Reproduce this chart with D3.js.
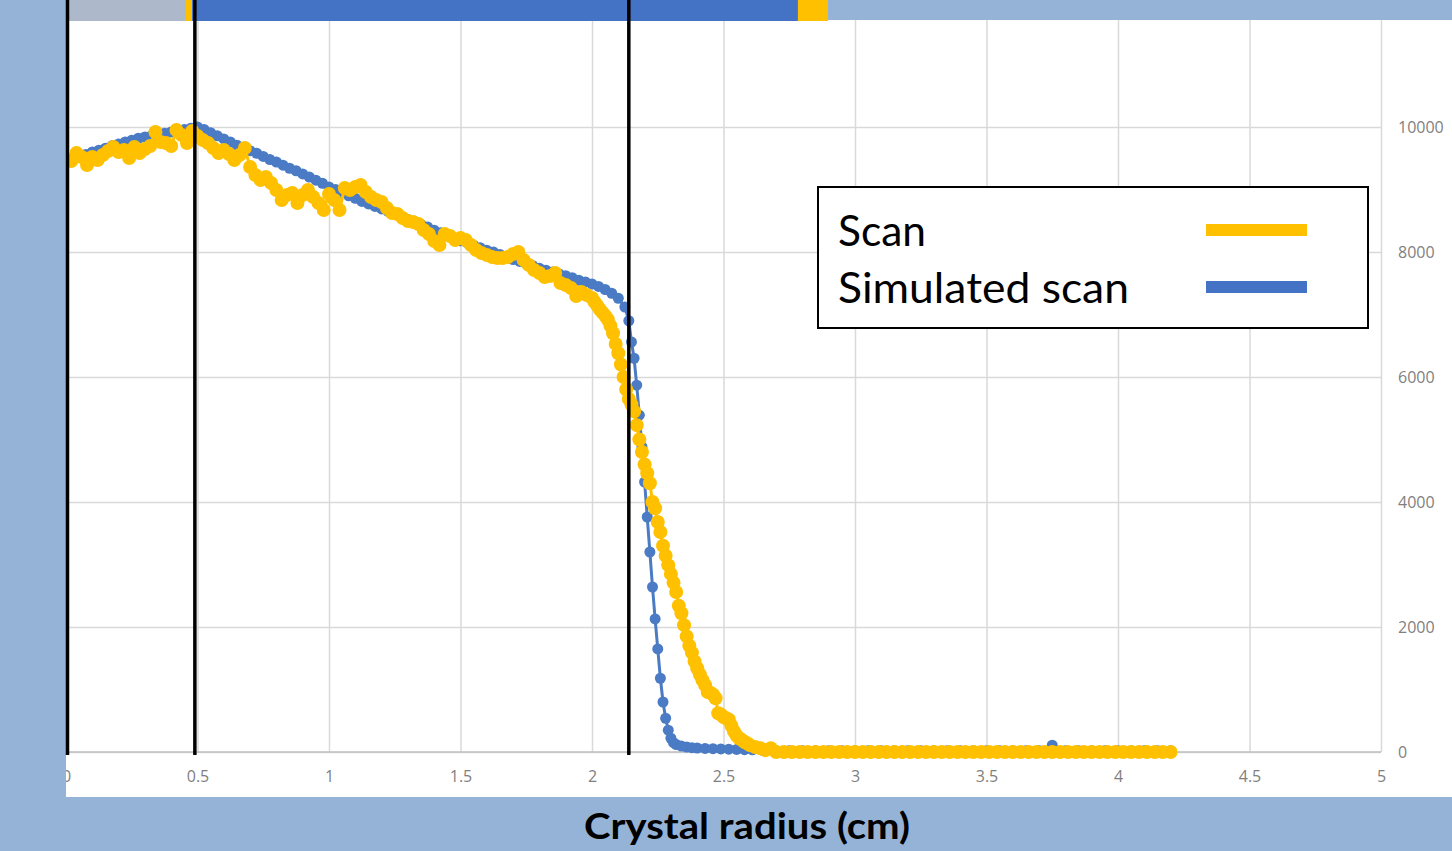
<!DOCTYPE html>
<html>
<head>
<meta charset="utf-8">
<script src="https://cdn.jsdelivr.net/npm/d3@7"></script>
<style>
  html, body { margin: 0; padding: 0; background: #95b3d7; }
  svg { display: block; }
</style>
</head>
<body>
<div id="chart"></div>
<script>
// Data: [radius (cm), counts]
const scanPoints = [
  [0,9472],[0.02,9456],[0.04,9584],[0.06,9520],[0.08,9392],[0.1,9520],[0.12,9472],[0.14,9552],[0.16,9616],[0.18,9680],
  [0.2,9600],[0.22,9632],[0.24,9504],[0.26,9680],[0.28,9584],[0.3,9648],[0.32,9696],[0.34,9920],[0.36,9760],[0.38,9744],
  [0.4,9696],[0.42,9952],[0.44,9872],[0.46,9744],[0.48,9936],[0.5,9856],[0.52,9792],[0.54,9744],[0.56,9664],[0.58,9584],
  [0.6,9632],[0.62,9568],[0.64,9472],[0.66,9552],[0.68,9664],[0.7,9360],[0.72,9232],[0.74,9152],[0.76,9200],[0.78,9104],
  [0.8,8992],[0.82,8832],[0.84,8912],[0.86,8944],[0.88,8784],[0.9,8912],[0.92,8992],[0.94,8880],[0.96,8784],[0.98,8672],
  [1,8928],[1.02,8832],[1.04,8672],[1.06,9024],[1.08,8992],[1.1,9040],[1.12,9072],[1.14,8960],[1.16,8880],[1.18,8832],
  [1.2,8800],[1.22,8704],[1.24,8624],[1.26,8608],[1.28,8544],[1.3,8496],[1.32,8480],[1.34,8448],[1.36,8352],[1.38,8288],
  [1.4,8176],[1.42,8112],[1.44,8288],[1.46,8256],[1.48,8192],[1.5,8224],[1.52,8192],[1.54,8112],[1.56,8032],[1.58,7984],
  [1.6,7952],[1.62,7920],[1.64,7904],[1.66,7904],[1.68,7920],[1.7,7968],[1.72,8000],[1.74,7872],[1.76,7792],[1.78,7712],
  [1.8,7664],[1.82,7600],[1.84,7616],[1.86,7664],[1.88,7504],[1.9,7472],[1.92,7424],[1.94,7296],[1.96,7360],[1.98,7312],
  [2,7264],[2.01,7200],[2.02,7140],[2.03,7080],[2.04,7030],[2.05,6980],[2.06,6920],[2.07,6820],[2.08,6700],[2.09,6530],
  [2.1,6380],[2.11,6200],[2.12,6000],[2.13,5800],[2.14,5650],[2.15,5560],[2.16,5450],[2.17,5230],[2.18,5000],[2.19,4800],
  [2.2,4600],[2.21,4460],[2.22,4300],[2.23,4000],[2.24,3900],[2.25,3680],[2.26,3520],[2.27,3300],[2.28,3140],[2.29,2990],
  [2.3,2850],[2.31,2710],[2.32,2560],[2.33,2340],[2.34,2220],[2.35,2030],[2.36,1850],[2.37,1700],[2.38,1590],[2.39,1450],
  [2.4,1340],[2.41,1240],[2.42,1150],[2.43,1070],[2.44,960],[2.45,950],[2.46,920],[2.47,860],[2.48,620],[2.49,600],
  [2.5,560],[2.51,540],[2.52,520],[2.53,420],[2.54,330],[2.55,260],[2.56,220],[2.57,190],[2.58,160],[2.59,140],
  [2.6,110],[2.62,80],[2.64,60],[2.66,30],[2.68,60],
  [2.7,0],[2.73,0],[2.76,0],[2.79,0],[2.82,0],[2.85,0],[2.88,0],[2.91,0],[2.94,0],[2.97,0],
  [3,0],[3.03,0],[3.06,0],[3.09,0],[3.12,0],[3.15,0],[3.18,0],[3.21,0],[3.24,0],[3.27,0],
  [3.3,0],[3.33,0],[3.36,0],[3.39,0],[3.42,0],[3.45,0],[3.48,0],[3.51,0],[3.54,0],[3.57,0],
  [3.6,0],[3.63,0],[3.66,0],[3.69,0],[3.72,0],[3.75,0],[3.78,0],[3.81,0],[3.84,0],[3.87,0],
  [3.9,0],[3.93,0],[3.96,0],[3.99,0],[4.02,0],[4.05,0],[4.08,0],[4.11,0],[4.14,0],[4.17,0],[4.2,0]
];

const simulatedPoints = [
  [0,9440],[0.025,9480],[0.05,9520],[0.075,9560],[0.1,9600],[0.125,9630],[0.15,9660],[0.175,9700],[0.2,9730],[0.225,9760],
  [0.25,9790],[0.275,9820],[0.3,9840],[0.325,9860],[0.35,9880],[0.375,9900],[0.4,9920],[0.425,9940],[0.45,9960],[0.475,9980],
  [0.5,10000],[0.525,9960],[0.55,9910],[0.575,9860],[0.6,9810],[0.625,9760],[0.65,9710],[0.675,9670],[0.7,9620],[0.725,9580],
  [0.75,9530],[0.775,9480],[0.8,9440],[0.825,9390],[0.85,9340],[0.875,9300],[0.9,9250],[0.925,9200],[0.95,9150],[0.975,9100],
  [1,9040],[1.025,9000],[1.05,8950],[1.075,8900],[1.1,8860],[1.125,8810],[1.15,8770],[1.175,8730],[1.2,8690],[1.225,8650],
  [1.25,8610],[1.275,8570],[1.3,8520],[1.325,8480],[1.35,8440],[1.375,8400],[1.4,8350],[1.425,8310],[1.45,8260],[1.475,8220],
  [1.5,8180],[1.525,8150],[1.55,8110],[1.575,8070],[1.6,8030],[1.625,8000],[1.65,7960],[1.675,7920],[1.7,7880],[1.725,7850],
  [1.75,7810],[1.775,7780],[1.8,7740],[1.825,7710],[1.85,7680],[1.875,7650],[1.9,7620],[1.925,7590],[1.95,7550],[1.975,7520],
  [2,7490],[2.025,7450],[2.05,7400],[2.075,7340],[2.1,7260],[2.125,7120],
  [2.14,6900],[2.15,6560],[2.16,6300],[2.17,5870],[2.18,5390],[2.19,4880],[2.2,4320],[2.21,3760],[2.22,3200],[2.23,2640],
  [2.24,2130],[2.25,1650],[2.26,1180],[2.27,800],[2.28,540],[2.29,350],[2.3,220],[2.31,150],[2.32,120],[2.34,95],
  [2.36,80],[2.38,70],[2.4,64],[2.43,58],[2.46,54],[2.49,50],[2.52,46],[2.55,42],[2.58,38],[2.61,35],
  [2.65,25],[2.7,20],[2.75,20],[2.8,20],[2.85,20],[2.9,20],[2.95,20],[3,20],[3.05,20],[3.1,20],
  [3.15,20],[3.2,20],[3.25,20],[3.3,20],[3.35,20],[3.4,20],[3.45,20],[3.5,20],[3.55,20],[3.6,20],
  [3.65,20],[3.7,20],[3.75,110],[3.8,20],[3.85,20],[3.9,20],[3.95,20],[4,20],[4.05,20],[4.1,20],[4.15,20],[4.2,20]
];

const xTicks = [0, 0.5, 1, 1.5, 2, 2.5, 3, 3.5, 4, 4.5, 5];
const yTicks = [0, 2000, 4000, 6000, 8000, 10000];
const markerLines = [0, 0.49, 2.14];          // vertical black lines (cm)
const bandEdges = [0, 0.456, 0.479, 2.783, 2.897]; // coloured strip along the top (cm)
const seriesNames = ['Scan', 'Simulated scan'];

const bandColors = ['#adb9ca', '#ffc000', '#4472c4', '#ffc000'];
const scanColor = '#ffc000';
const simColor = '#4a7bc4';

function drawChart() {
    const width = 1452;
    const height = 851;

    const svg = d3.select('#chart')
        .append('svg')
        .attr('width', width)
        .attr('height', height);

    svg.append('rect')
        .attr('width', width).attr('height', height)
        .attr('fill', '#95b3d7');

    // white chart area
    const area = { left: 66, top: 20, right: 1452, bottom: 797 };
    svg.append('defs').append('clipPath').attr('id', 'area-clip')
        .append('rect')
        .attr('x', area.left).attr('y', 0)
        .attr('width', area.right - area.left).attr('height', area.bottom);

    svg.append('rect')
        .attr('x', area.left).attr('y', area.top)
        .attr('width', area.right - area.left)
        .attr('height', area.bottom - area.top)
        .attr('fill', '#ffffff');

    const xScale = d3.scaleLinear().domain([0, 5]).range([66, 1381]);
    const yScale = d3.scaleLinear().domain([0, 12000]).range([752, 2]);

    const chart = svg.append('g').attr('clip-path', 'url(#area-clip)');

    // vertical gridlines
    chart.append('g')
        .attr('transform', `translate(0, ${yScale(0)})`)
        .call(d3.axisBottom(xScale).tickValues(xTicks).tickFormat('').tickSize(-(yScale(0) - area.top)))
        .call(g => g.select('.domain').remove())
        .call(g => g.selectAll('line').attr('stroke', '#d9d9d9').attr('stroke-width', 1.5));

    // horizontal gridlines
    chart.append('g')
        .attr('transform', `translate(${xScale(0)}, 0)`)
        .call(d3.axisRight(yScale).tickValues(yTicks).tickFormat('').tickSize(xScale(5) - xScale(0)))
        .call(g => g.select('.domain').remove())
        .call(g => g.selectAll('line').attr('stroke', '#d9d9d9').attr('stroke-width', 1.5));

    // x axis line
    chart.append('line')
        .attr('x1', xScale(0)).attr('x2', xScale(5))
        .attr('y1', yScale(0)).attr('y2', yScale(0))
        .attr('stroke', '#bfbfbf').attr('stroke-width', 1.5);

    // x tick labels
    chart.append('g')
        .attr('transform', `translate(0, ${yScale(0)})`)
        .call(d3.axisBottom(xScale).tickValues(xTicks).tickFormat(d => String(d)).tickSize(0).tickPadding(19))
        .call(g => g.select('.domain').remove())
        .call(g => g.selectAll('text')
            .attr('fill', '#7f7f7f')
            .style('font-family', '"Open Sans", sans-serif')
            .style('font-size', '16px'));

    // y tick labels on the right
    chart.append('g')
        .attr('transform', `translate(${xScale(5)}, 0)`)
        .call(d3.axisRight(yScale).tickValues(yTicks).tickFormat(d => String(d)).tickSize(0).tickPadding(17))
        .call(g => g.select('.domain').remove())
        .call(g => g.selectAll('text')
            .attr('fill', '#7f7f7f')
            .style('font-family', '"Open Sans", sans-serif')
            .style('font-size', '16px'));

    // Simulated scan: line + markers
    const line = d3.line().x(d => xScale(d[0])).y(d => yScale(d[1]));

    chart.append('path')
        .datum(simulatedPoints)
        .attr('d', line)
        .attr('fill', 'none')
        .attr('stroke', simColor)
        .attr('stroke-width', 3);

    chart.append('g').selectAll('circle')
        .data(simulatedPoints)
        .join('circle')
        .attr('cx', d => xScale(d[0]))
        .attr('cy', d => yScale(d[1]))
        .attr('r', 5.5)
        .attr('fill', simColor);

    // Scan: line + markers on top
    chart.append('path')
        .datum(scanPoints)
        .attr('d', line)
        .attr('fill', 'none')
        .attr('stroke', scanColor)
        .attr('stroke-width', 3);

    chart.append('g').selectAll('circle')
        .data(scanPoints)
        .join('circle')
        .attr('cx', d => xScale(d[0]))
        .attr('cy', d => yScale(d[1]))
        .attr('r', 7)
        .attr('fill', scanColor);

    // coloured strip at the top
    const bands = d3.pairs(bandEdges);
    svg.append('g').selectAll('rect')
        .data(bands)
        .join('rect')
        .attr('x', d => xScale(d[0]))
        .attr('y', 0)
        .attr('width', d => xScale(d[1]) - xScale(d[0]))
        .attr('height', 21)
        .attr('fill', (d, i) => bandColors[i]);

    // black vertical lines
    svg.append('g').selectAll('line')
        .data(markerLines)
        .join('line')
        .attr('x1', d => xScale(d) + (d === 0 ? 1.5 : 0))
        .attr('x2', d => xScale(d) + (d === 0 ? 1.5 : 0))
        .attr('y1', 0)
        .attr('y2', yScale(0) + 3)
        .attr('stroke', '#000')
        .attr('stroke-width', 3.5);

    // legend
    const legend = svg.append('g');
    legend.append('rect')
        .attr('x', 818).attr('y', 187)
        .attr('width', 550).attr('height', 141)
        .attr('fill', '#fff')
        .attr('stroke', '#000')
        .attr('stroke-width', 2);

    const legendColors = [scanColor, '#4472c4'];
    const legendWidths = [88, 291];
    seriesNames.forEach((name, i) => {
        const yMid = 230 + i * 57;
        legend.append('text')
            .attr('x', 838)
            .attr('y', yMid + 16)
            .attr('textLength', legendWidths[i])
            .attr('lengthAdjust', 'spacingAndGlyphs')
            .style('font-family', 'Lato, "Open Sans", sans-serif')
            .style('font-size', '43px')
            .attr('fill', '#000')
            .text(name);
        legend.append('rect')
            .attr('x', 1206).attr('y', yMid - 6)
            .attr('width', 101).attr('height', 12)
            .attr('fill', legendColors[i]);
    });

    // axis title
    svg.append('text')
        .attr('x', 747)
        .attr('y', 839)
        .attr('text-anchor', 'middle')
        .attr('textLength', 326)
        .attr('lengthAdjust', 'spacingAndGlyphs')
        .style('font-family', 'Lato, "Open Sans", sans-serif')
        .style('font-weight', 700)
        .style('font-size', '37px')
        .attr('fill', '#000')
        .text('Crystal radius (cm)');
}

drawChart();
</script>
</body>
</html>
